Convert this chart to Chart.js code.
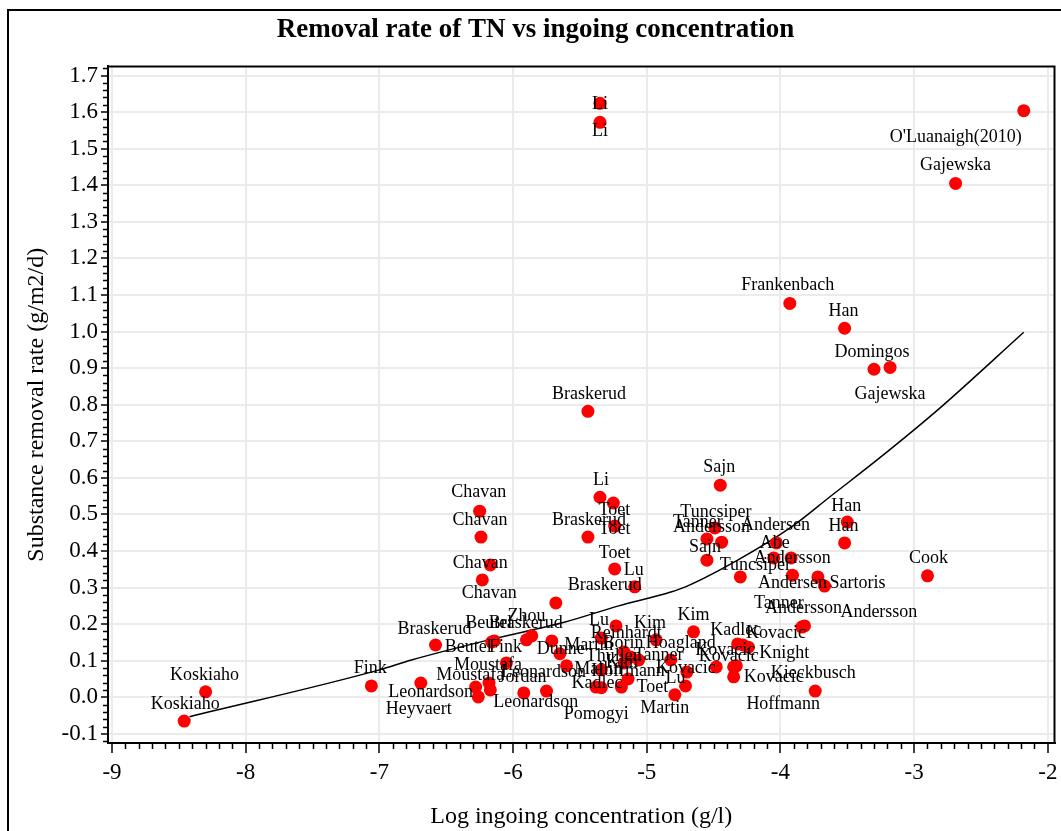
<!DOCTYPE html>
<html>
<head>
<meta charset="utf-8">
<script src="https://cdn.jsdelivr.net/npm/chart.js@4.4.0/dist/chart.umd.min.js"></script>
<style>
  html, body { margin: 0; padding: 0; background: #fff; }
  #wrap { position: relative; width: 1061px; height: 831px; }
  canvas { display: block; }
</style>
</head>
<body>
<div id="wrap"><canvas id="chart" width="1061" height="831"></canvas></div>
<script>
// Study names, one per observation
const studies = [
  'Koskiaho', 'Koskiaho', 'Fink', 'Heyvaert', 'Leonardson', 'Braskerud', 'Beutel', 'Beutel',
  'Zhou', 'Braskerud', 'Fink', 'Moustafa', 'Moustafa', '', 'Leonardson', 'Jordan',
  'Leonardson', 'Martin', 'Dunne', 'Braskerud', 'Chavan', 'Chavan', 'Chavan', 'Chavan',
  'Braskerud', 'Li', 'Toet', 'Toet', 'Braskerud', 'Toet', 'Lu', 'Li',
  'Li', "O'Luanaigh(2010)", 'Gajewska', 'Frankenbach', 'Han', 'Domingos', 'Gajewska', 'Sajn',
  'Tuncsiper', 'Tanner', 'Andersson', 'Sajn', 'Tuncsiper', 'Andersen', 'Abe', 'Andersson',
  'Andersen', 'Andersson', 'Sartoris', 'Andersson', 'Tanner', 'Han', 'Han', 'Cook',
  'Kim', 'Kadlec', 'Kovacic', 'Knight', 'Kovacic', 'Kovacic', 'Kieckbusch', 'Kovacic',
  'Hoffmann', 'Hoagland', 'Kovacic', 'Lu', 'Martin', 'Lu', 'Reinhardt', 'Kim',
  'Borin', 'Thullen', 'Kim', 'Tanner', 'Mallin', 'Hoffmann', 'Kadlec', 'Pomogyi',
  'Toet'
];

// Log ingoing concentration (g/l)
const logConc = [
  -8.46, -8.30, -7.06, -6.69, -6.28, -6.58, -6.16, -6.14,
  -5.90, -5.86, -6.05, -6.18, -6.26, -6.17, -5.92, -5.75,
  -5.60, -5.71, -5.65, -5.68, -6.23, -6.17, -6.24, -6.25,
  -5.44, -5.35, -5.25, -5.24, -5.44, -5.24, -5.09, -5.35,
  -5.35, -2.18, -2.69, -3.93, -3.52, -3.30, -3.18, -4.45,
  -4.49, -4.55, -4.44, -4.55, -4.30, -4.03, -4.05, -3.92,
  -3.91, -3.72, -3.67, -3.82, -3.84, -3.50, -3.52, -2.90,
  -4.65, -4.32, -4.28, -4.24, -4.48, -4.35, -4.33, -4.35,
  -3.74, -4.82, -4.70, -4.71, -4.79, -5.23, -5.34, -4.93,
  -5.17, -5.12, -5.17, -5.06, -5.34, -5.14, -5.38, -5.34,
  -5.19
];

// Substance removal rate (g/m2/d)
const removalRate = [
  -0.065, 0.015, 0.031, 0.039, 0.028, 0.143, 0.151, 0.154,
  0.157, 0.168, 0.094, 0.039, 0.001, 0.020, 0.012, 0.017,
  0.086, 0.154, 0.119, 0.258, 0.321, 0.362, 0.438, 0.509,
  0.782, 0.547, 0.531, 0.468, 0.438, 0.351, 0.302, 1.624,
  1.572, 1.604, 1.405, 1.077, 1.009, 0.897, 0.902, 0.580,
  0.463, 0.433, 0.424, 0.375, 0.329, 0.422, 0.381, 0.381,
  0.334, 0.329, 0.304, 0.195, 0.192, 0.479, 0.422, 0.332,
  0.179, 0.146, 0.143, 0.137, 0.083, 0.083, 0.086, 0.056,
  0.017, 0.102, 0.069, 0.031, 0.007, 0.195, 0.162, 0.157,
  0.124, 0.110, 0.094, 0.102, 0.075, 0.050, 0.028, 0.026,
  0.028
];

// Where each study name sits relative to its marker (px)
const labelShift = [
  [1, -17], [-1, -17], [-1, -18], [-2, 26], [-45, 5], [-1, -16], [-3, -19], [-26, 6],
  [0, -24], [-6, -13], [-1, -16], [-1, -18], [-8, -22], [0, 0], [12, 9], [-24, -14],
  [-23, 6], [37, 4], [1, -4], [49, -18], [7, 13], [-10, -2], [-1, -17], [-1, -19],
  [1, -17], [1, -17], [1, 7], [0, 3], [1, -17], [0, -16], [-1, -17], [0, 1],
  [0, 9], [-68, 27], [0, -18], [-2, -18], [-1, -17], [-2, -17], [0, 27], [-1, -18],
  [1, -16], [-9, -17], [-10, -15], [-2, -13], [15, -12], [-1, -18], [1, -15], [1, 0],
  [0, 8], [61, 35], [33, -3], [-1, -18], [-23, -24], [-1, -16], [-1, -17], [1, -18],
  [0, -17], [-2, -14], [33, -12], [36, 6], [9, -17], [-5, -11], [77, 7], [40, 0],
  [-32, 13], [10, -17], [-1, -4], [-10, -8], [-10, 14], [-17, -6], [25, -5], [-6, -17],
  [-1, -9], [-17, -1], [-2, -1], [20, -5], [-3, -1], [0, -8], [1, -4], [-5, 26],
  [31, 0]
];

// Fitted trend line
const fitX = [-8.42, -7.00, -6.76, -6.18, -5.61, -5.21, -4.82, -4.71, -4.32, -3.92, -3.62, -3.27, -2.81, -2.18];
const fitY = [-0.053, 0.075, 0.102, 0.157, 0.206, 0.250, 0.288, 0.302, 0.375, 0.465, 0.551, 0.651, 0.790, 0.998];

// Axis tick values
const xTicks = [-9, -8, -7, -6, -5, -4, -3, -2];
const yTicks = [-0.1, 0.0, 0.1, 0.2, 0.3, 0.4, 0.5, 0.6, 0.7, 0.8, 0.9, 1.0, 1.1, 1.2, 1.3, 1.4, 1.5, 1.6, 1.7];

const SERIF = "'Liberation Serif', 'Times New Roman', serif";

const points = logConc.map((x, i) => ({ x: x, y: removalRate[i] }));
const fitLine = fitX.map((x, i) => ({ x: x, y: fitY[i] }));

// Outer frame, plot frame and minor tick marks
const framePlugin = {
  id: 'frame',
  beforeDraw(chart) {
    const ctx = chart.ctx;
    ctx.save();
    ctx.fillStyle = '#fff';
    ctx.fillRect(0, 0, chart.width, chart.height);
    ctx.strokeStyle = '#000';
    ctx.lineWidth = 2;
    ctx.beginPath();
    ctx.moveTo(8, chart.height + 5);
    ctx.lineTo(8, 10);
    ctx.lineTo(chart.width + 5, 10);
    ctx.stroke();
    ctx.restore();
  },
  afterDraw(chart) {
    const ctx = chart.ctx;
    const a = chart.chartArea;
    const xs = chart.scales.x, ys = chart.scales.y;
    ctx.save();
    ctx.strokeStyle = '#000';
    ctx.lineWidth = 2;
    ctx.beginPath();
    ctx.moveTo(a.left, a.top);
    ctx.lineTo(a.right, a.top);
    ctx.lineTo(a.right, a.bottom);
    ctx.stroke();
    ctx.lineWidth = 1.5;
    ctx.beginPath();
    for (let k = -90; k <= -20; k++) {
      if (k % 10 === 0) continue;
      const px = Math.round(xs.getPixelForValue(k / 10)) + 0.5;
      ctx.moveTo(px, a.bottom + 1);
      ctx.lineTo(px, a.bottom + 6);
    }
    for (let k = -6; k <= 86; k++) {
      if (k % 5 === 0) continue;
      const v = k / 50;
      if (v < ys.min || v > ys.max) continue;
      const py = Math.round(ys.getPixelForValue(v)) + 0.5;
      ctx.moveTo(a.left - 5, py);
      ctx.lineTo(a.left - 1, py);
    }
    ctx.stroke();
    ctx.restore();
  }
};

// Study names next to the markers
const studyLabels = {
  id: 'studyLabels',
  afterDatasetsDraw(chart) {
    const meta = chart.getDatasetMeta(1);
    const ctx = chart.ctx;
    ctx.save();
    ctx.font = "18px " + SERIF;
    ctx.fillStyle = '#000';
    ctx.textAlign = 'center';
    ctx.textBaseline = 'middle';
    meta.data.forEach((el, i) => {
      if (!studies[i]) return;
      const s = labelShift[i];
      ctx.fillText(studies[i], el.x + s[0], el.y + s[1]);
    });
    ctx.restore();
  }
};

new Chart(document.getElementById('chart'), {
  type: 'scatter',
  data: {
    datasets: [
      {
        label: 'fit',
        data: fitLine,
        showLine: true,
        borderColor: '#000',
        borderWidth: 1.5,
        pointRadius: 0,
        fill: false,
        cubicInterpolationMode: 'monotone',
        order: 2
      },
      {
        label: 'studies',
        data: points,
        backgroundColor: '#ff0000',
        borderWidth: 0,
        pointRadius: 6.5,
        order: 1
      }
    ]
  },
  options: {
    responsive: false,
    animation: false,
    devicePixelRatio: 1,
    layout: { padding: { left: 16, right: 6, top: 0, bottom: 0 } },
    plugins: {
      legend: { display: false },
      tooltip: { enabled: false },
      title: {
        display: true,
        text: 'Removal rate of TN vs ingoing concentration',
        color: '#000',
        font: { family: SERIF, size: 27, weight: 'bold' },
        padding: { top: 14, bottom: 20 }
      }
    },
    scales: {
      x: {
        type: 'linear',
        position: 'bottom',
        min: -9.03,
        max: -1.95,
        afterBuildTicks: s => { s.ticks = xTicks.map(v => ({ value: v })); },
        afterFit: s => { s.height = 88; s.paddingLeft = 0; s.paddingRight = 0; },
        ticks: {
          color: '#000',
          font: { family: SERIF, size: 23 },
          padding: 6,
          maxRotation: 0,
          autoSkip: false,
          callback: v => String(v)
        },
        grid: { color: '#ebebeb', lineWidth: 2, tickColor: '#000', tickLength: 10, tickWidth: 1.5 },
        border: { color: '#000', width: 2 },
        title: {
          display: true,
          text: 'Log ingoing concentration (g/l)',
          color: '#000',
          font: { family: SERIF, size: 24 },
          padding: { top: 0, bottom: 0 }
        }
      },
      y: {
        type: 'linear',
        min: -0.125,
        max: 1.725,
        afterBuildTicks: s => { s.ticks = yTicks.map(v => ({ value: v })); },
        afterFit: s => { s.width = 92; s.paddingTop = 0; s.paddingBottom = 0; },
        ticks: {
          color: '#000',
          font: { family: SERIF, size: 23 },
          padding: 3,
          autoSkip: false,
          callback: v => v.toFixed(1)
        },
        grid: { color: '#ebebeb', lineWidth: 2, tickColor: '#000', tickLength: 7, tickWidth: 1.5 },
        border: { color: '#000', width: 2 },
        title: {
          display: true,
          text: 'Substance removal rate (g/m2/d)',
          color: '#000',
          font: { family: SERIF, size: 24 },
          padding: { top: 6, bottom: 0 }
        }
      }
    }
  },
  plugins: [framePlugin, studyLabels]
});
</script>
</body>
</html>
